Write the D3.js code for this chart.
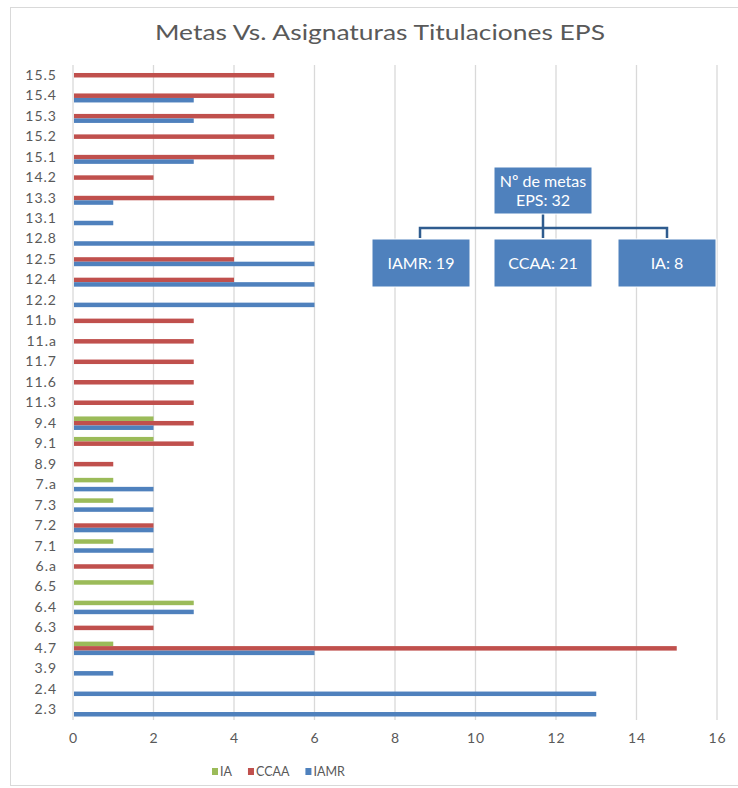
<!DOCTYPE html>
<html>
<head>
<meta charset="utf-8">
<script src="https://cdn.jsdelivr.net/npm/d3@7"></script>
<style>
  body { margin: 0; background: #fff; }
  text { font-family: Lato, "Open Sans", sans-serif; }
</style>
</head>
<body>
<div id="graf"></div>
<script>
// metas (de abajo hacia arriba, como en el original)
const metas = ["2.3", "2.4", "3.9", "4.7", "6.3", "6.4", "6.5", "6.a", "7.1", "7.2", "7.3", "7.a",
  "8.9", "9.1", "9.4", "11.3", "11.6", "11.7", "11.a", "11.b", "12.2", "12.4", "12.5", "12.8",
  "13.1", "13.3", "14.2", "15.1", "15.2", "15.3", "15.4", "15.5"]

// asignaturas por titulacion
const ia   = [0, 0, 0, 1, 0, 3, 2, 0, 1, 0, 1, 1, 0, 2, 2, 0, 0, 0, 0, 0, 0, 0, 0, 0, 0, 0, 0, 0, 0, 0, 0, 0]
const ccaa = [0, 0, 0, 15, 2, 0, 0, 2, 0, 2, 0, 0, 1, 3, 3, 3, 3, 3, 3, 3, 0, 4, 4, 0, 0, 5, 2, 5, 5, 5, 5, 5]
const iamr = [13, 13, 1, 6, 0, 3, 0, 0, 2, 2, 2, 2, 0, 0, 2, 0, 0, 0, 0, 0, 6, 6, 6, 6, 1, 1, 0, 3, 0, 3, 3, 0]

const series = ["IA", "CCAA", "IAMR"]
const colores = ["#9BBB59", "#C0504D", "#4F81BD"]
const ticksX = [0, 2, 4, 6, 8, 10, 12, 14, 16]

const anchoTotal = 738
const altoTotal = 788
const margins = { top: 65, right: 21, bottom: 68, left: 73 }
const ancho = anchoTotal - margins.left - margins.right
const alto = altoTotal - margins.top - margins.bottom

const svg = d3.select("#graf")
  .append("svg")
  .attr("width", anchoTotal)
  .attr("height", altoTotal)

// marco del grafico
svg.append("rect")
  .attr("x", 10.5).attr("y", 7.5)
  .attr("width", 740).attr("height", 778)
  .attr("fill", "none")
  .attr("stroke", "#D9D9D9")

svg.append("text")
  .attr("x", 380).attr("y", 40)
  .attr("text-anchor", "middle")
  .attr("fill", "#595959")
  .attr("textLength", 450)
  .attr("lengthAdjust", "spacingAndGlyphs")
  .style("font-size", "22px")
  .text("Metas Vs. Asignaturas Titulaciones EPS")

const g = svg.append("g")
  .attr("transform", `translate(${margins.left}, ${margins.top})`)

// Escaladores
const x = d3.scaleLinear().domain([0, 16]).range([0, 644])
const y = d3.scaleBand()
  .domain(metas.slice().reverse())
  .range([0, alto])
  .paddingInner(0.34)
  .paddingOuter(0.17)
const ySub = d3.scaleBand().domain(series).range([0, y.bandwidth()])
const color = d3.scaleOrdinal().domain(series).range(colores)

// rejilla vertical
g.append("g")
  .selectAll("line")
  .data(ticksX)
  .enter()
  .append("line")
  .attr("x1", (d) => x(d)).attr("x2", (d) => x(d))
  .attr("y1", 0).attr("y2", alto)
  .attr("stroke", "#D9D9D9")
  .attr("stroke-width", 1.3)

const filas = metas.map((m, i) => ({ meta: m, IA: ia[i], CCAA: ccaa[i], IAMR: iamr[i] }))

g.append("g")
  .selectAll("g")
  .data(filas)
  .enter()
  .append("g")
  .attr("transform", (d) => `translate(0, ${y(d.meta)})`)
  .selectAll("rect")
  .data((d) => series.map((s) => ({ serie: s, valor: d[s] })).filter((d) => d.valor > 0))
  .enter()
  .append("rect")
  .attr("x", x(0) + 1)
  .attr("y", (d) => ySub(d.serie))
  .attr("width", (d) => x(d.valor) - x(0) - 1)
  .attr("height", ySub.bandwidth())
  .attr("fill", (d) => color(d.serie))

// ejes
const xAxis = d3.axisBottom(x).tickValues(ticksX).tickSize(0).tickPadding(13)
g.append("g")
  .attr("transform", `translate(0, ${alto})`)
  .call(xAxis)
  .call((a) => a.select(".domain").remove())
  .selectAll("text")
  .attr("fill", "#595959")
  .style("font-size", "14px")
  .style("letter-spacing", "1px")
  .style("font-family", "Lato")

const yAxis = d3.axisLeft(y).tickSize(0).tickPadding(16)
g.append("g")
  .call(yAxis)
  .call((a) => a.select(".domain").remove())
  .selectAll("text")
  .attr("fill", "#595959")
  .style("font-size", "14px")
  .style("letter-spacing", "1px")
  .style("font-family", "Lato")

// leyenda
const leyenda = svg.append("g").attr("transform", "translate(212, 772)")
let lx = 0
series.forEach((s, i) => {
  leyenda.append("rect")
    .attr("x", lx).attr("y", -4)
    .attr("width", 6).attr("height", 7)
    .attr("fill", colores[i])
  const t = leyenda.append("text")
    .attr("x", lx + 8).attr("y", 4)
    .attr("fill", "#595959")
    .style("font-size", "12.5px")
    .text(s)
  lx += 8 + t.node().getComputedTextLength() + 16
})

// diagrama de conteo de metas
const contar = (arr) => arr.filter((v) => v > 0).length
const cajas = [
  { x: 372, y: 239, t: [`IAMR: ${contar(iamr)}`] },
  { x: 494, y: 239, t: [`CCAA: ${contar(ccaa)}`] },
  { x: 618, y: 239, t: [`IA: ${contar(ia)}`] },
  { x: 494, y: 167, h: 47, t: ["Nº de metas", `EPS: ${metas.length}`] },
]

const conector = svg.append("g")
  .attr("stroke", "#2F5C8F")
  .attr("stroke-width", 2.5)
  .attr("fill", "none")
conector.append("path").attr("d", "M420,238 V228 H667 V238")
conector.append("path").attr("d", "M543,214 V238")

cajas.forEach((c) => {
  const h = c.h || 48
  svg.append("rect")
    .attr("x", c.x).attr("y", c.y)
    .attr("width", 98).attr("height", h)
    .attr("fill", "#4F81BD")
    .attr("stroke", "#fff")
    .attr("stroke-width", 1)
  const txt = svg.append("text")
    .attr("x", c.x + 49)
    .attr("text-anchor", "middle")
    .attr("fill", "#fff")
    .style("font-size", "16px")
  c.t.forEach((linea, i) => {
    txt.append("tspan")
      .attr("x", c.x + 49)
      .attr("y", c.y + h / 2 + 6 + (i - (c.t.length - 1) / 2) * 19)
      .text(linea)
  })
})
</script>
</body>
</html>
